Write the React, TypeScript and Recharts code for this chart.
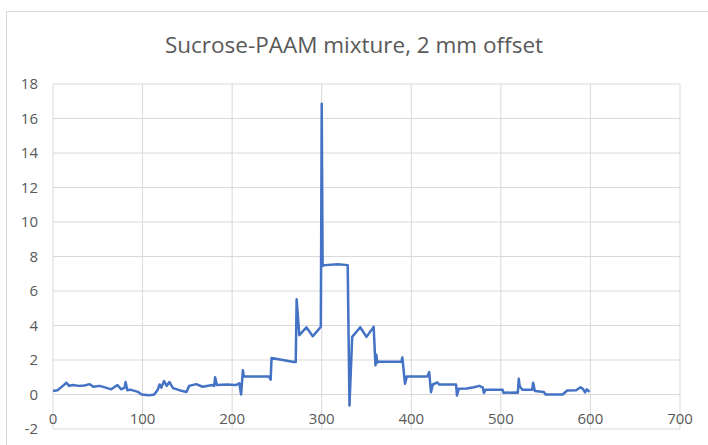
import { LineChart, Line, XAxis, YAxis, CartesianGrid } from "recharts";

const TITLE = "Sucrose-PAAM mixture, 2 mm offset";

const X_TICKS = [0, 100, 200, 300, 400, 500, 600, 700];
const Y_TICKS = [-2, 0, 2, 4, 6, 8, 10, 12, 14, 16, 18];

// distance (x) and reading (y)
const POS = [
  0, 5, 11, 15, 18, 22, 29, 35, 41, 45, 52, 59, 65, 72, 76, 80, 81, 83, 86, 95, 99, 107, 113, 117, 119, 121, 124, 127, 130, 134,
  141, 149, 152, 160, 167, 178, 180, 181, 183, 194, 204, 208, 210, 212, 213, 216, 241, 243, 244, 269, 271, 272, 275, 283, 290, 299,
  300, 301, 304, 318, 329, 331, 334, 343, 350, 358, 360, 361, 362, 364, 389, 390, 393, 395, 418, 420, 422, 424, 429, 431, 450,
  451, 453, 462, 470, 476, 480, 481, 483, 502, 503, 517, 519, 520, 521, 524, 535, 536, 538, 548, 550, 569, 574, 584, 589, 592,
  594, 596, 599,
];
const VALUES = [
  0.2, 0.25, 0.5, 0.68, 0.5, 0.55, 0.5, 0.52, 0.6, 0.45, 0.5, 0.4, 0.3, 0.55, 0.3, 0.4, 0.72, 0.25, 0.28, 0.15, 0, -0.05, 0, 0.28,
  0.58, 0.4, 0.78, 0.5, 0.72, 0.37, 0.25, 0.15, 0.5, 0.6, 0.45, 0.55, 0.5, 1.0, 0.55, 0.58, 0.55, 0.65, 0, 1.4, 1.05, 1.05, 1.05,
  0.86, 2.12, 1.88, 1.88, 5.52, 3.44, 3.89, 3.38, 3.92, 16.85, 7.46, 7.5, 7.55, 7.5, -0.64, 3.34, 3.9, 3.34, 3.92, 1.69, 2.3, 1.85,
  1.9, 1.9, 2.15, 0.62, 1.05, 1.05, 1.3, 0.13, 0.58, 0.7, 0.58, 0.58, -0.06, 0.33, 0.35, 0.42, 0.5, 0.4, 0.1, 0.27, 0.27, 0.1,
  0.12, 0.1, 0.91, 0.5, 0.27, 0.27, 0.68, 0.2, 0.15, 0.0, 0.0, 0.23, 0.25, 0.42, 0.3, 0.12, 0.3, 0.15,
];

const data = POS.map((x, i) => ({ x, y: VALUES[i] }));

const FONT = "'Open Sans', 'Liberation Sans', sans-serif";
const TEXT = "#595959";
const GRID = "#d9d9d9";

function XTick({ x, y, payload }: any) {
  return (
    <text x={x} y={y - 7} textAnchor="middle" fill={TEXT} fontSize={15} fontFamily={FONT}>
      {payload.value}
    </text>
  );
}

export default function App() {
  return (
    <div style={{ position: "absolute", left: 0, top: 0, width: 708, height: 445, overflow: "hidden", background: "#fff" }}>
      <div
        style={{
          position: "absolute",
          left: 6,
          top: 11,
          width: 740,
          height: 460,
          border: `1px solid ${GRID}`,
        }}
      />
      <div
        style={{
          position: "absolute",
          left: 0,
          top: 29,
          width: 708,
          textAlign: "center",
          fontFamily: FONT,
          fontSize: 22.5,
          color: TEXT,
        }}
      >
        {TITLE}
      </div>
      <div style={{ position: "absolute", left: 0, top: 0 }}>
        <LineChart width={708} height={445} data={data} margin={{ top: 84, right: 28, bottom: 0, left: 0 }}>
          <CartesianGrid stroke={GRID} strokeWidth={1} />
          <XAxis
            dataKey="x"
            type="number"
            domain={[0, 700]}
            ticks={X_TICKS}
            height={16}
            axisLine={false}
            tickLine={false}
            tickSize={0}
            tick={<XTick />}
          />
          <YAxis
            type="number"
            domain={[-2, 18]}
            ticks={Y_TICKS}
            width={53}
            axisLine={false}
            tickLine={false}
            tickSize={0}
            tickMargin={15}
            tick={{ fill: TEXT, fontSize: 15, fontFamily: FONT }}
          />
          <Line
            dataKey="y"
            stroke="#4472C4"
            strokeWidth={2.5}
            dot={false}
            isAnimationActive={false}
            strokeLinejoin="round"
          />
        </LineChart>
      </div>
    </div>
  );
}
